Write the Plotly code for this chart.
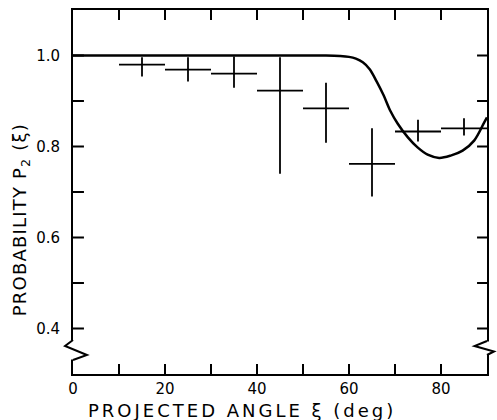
import plotly.graph_objects as go

# ---- data ----
angle_centers = [15, 25, 35, 45, 55, 65, 75, 85]
angle_halfbin = [5, 5, 5, 5, 5, 5, 5, 5]
prob = [0.980, 0.969, 0.960, 0.923, 0.884, 0.762, 0.833, 0.840]
err_plus = [0.016, 0.027, 0.038, 0.073, 0.056, 0.078, 0.026, 0.022]
err_minus = [0.026, 0.026, 0.031, 0.183, 0.076, 0.072, 0.022, 0.016]

curve_x = [0, 20, 40, 55, 58, 60, 61.5, 63, 64.5, 66, 67.5, 69, 70.6, 72.8, 74.9, 77.1,
           79.6, 82.1, 84.7, 87.2, 89.4, 90]
curve_y = [1.0, 1.0, 1.0, 1.0, 0.999, 0.997, 0.993, 0.985, 0.970, 0.943, 0.913, 0.878,
           0.850, 0.820, 0.798, 0.782, 0.775, 0.780, 0.791, 0.813, 0.853, 0.864]

x_range = [0, 90]
y_range = [0.3, 1.1]
x_major = [0, 20, 40, 60, 80]
x_labels = ["0", "20", "40", "60", "80"]
x_minor = [10, 30, 50, 70]
y_major = [0.4, 0.6, 0.8, 1.0]
y_labels = ["0.4", "0.6", "0.8", "1.0"]
y_tick_all = [0.4, 0.5, 0.6, 0.7, 0.8, 0.9, 1.0]

# ---- layout geometry ----
W, H = 497, 420
ML, MR, MT, MB = 73, 8, 10, 46
PW, PH = W - ML - MR, H - MT - MB

def px(dx):
    return dx / PW

def py(dy):
    return dy / PH

def yfrac(v):
    return (v - y_range[0]) / (y_range[1] - y_range[0])

FONT = "DejaVu Sans"

fig = go.Figure()

fig.add_trace(go.Scatter(
    x=curve_x, y=curve_y, mode="lines",
    line=dict(color="black", width=2.5, shape="spline", smoothing=1.0),
    hoverinfo="skip", showlegend=False,
))

fig.add_trace(go.Scatter(
    x=angle_centers, y=prob, mode="markers",
    marker=dict(size=1, color="black"),
    error_x=dict(type="data", array=angle_halfbin, color="black", thickness=1.8, width=0),
    error_y=dict(type="data", symmetric=False, array=err_plus, arrayminus=err_minus,
                 color="black", thickness=1.8, width=0),
    showlegend=False,
))

# axis break symbols: white masks over the axis lines, then zigzags
left_zig = f"M 0 {py(34)} L {px(-8)} {py(28)} L {px(14)} {py(19)} L 0 {py(14)}"
right_zig = (f"M 1 {py(33)} L {1 + px(-12.5)} {py(28)} L {1 + px(7)} {py(22.5)} "
             f"L 1 {py(19)}")
# inward ticks on left and right frame edges, one path
tick_path = " ".join(
    f"M 0 {yfrac(v)} L {px(11)} {yfrac(v)} M {1 - px(10)} {yfrac(v)} L 1 {yfrac(v)}"
    for v in y_tick_all
)
shapes = [
    dict(type="rect", xref="paper", yref="paper", x0=px(-3), x1=px(3),
         y0=py(14.5), y1=py(33.5), fillcolor="white", line=dict(width=0), layer="above"),
    dict(type="rect", xref="paper", yref="paper", x0=1 + px(-3), x1=1 + px(3),
         y0=py(19.5), y1=py(32.5), fillcolor="white", line=dict(width=0), layer="above"),
    dict(type="path", xref="paper", yref="paper", path=left_zig,
         line=dict(color="black", width=2), layer="above"),
    dict(type="path", xref="paper", yref="paper", path=right_zig,
         line=dict(color="black", width=2), layer="above"),
    dict(type="path", xref="paper", yref="paper", path=tick_path,
         line=dict(color="black", width=2), layer="above"),
]

fig.update_layout(
    width=W, height=H,
    margin=dict(l=ML, r=MR, t=MT, b=MB),
    paper_bgcolor="white", plot_bgcolor="white",
    shapes=shapes,
    font=dict(family=FONT, color="black"),
    xaxis=dict(
        range=x_range, tickvals=x_major, ticktext=x_labels,
        ticks="inside", ticklen=10, tickwidth=2, tickcolor="black",
        minor=dict(tickvals=x_minor, ticks="inside", ticklen=10, tickwidth=2,
                   tickcolor="black", showgrid=False),
        showline=True, linewidth=2, linecolor="black", mirror="ticks",
        showgrid=False, zeroline=False,
        tickfont=dict(family=FONT, size=15, color="black"),
    ),
    yaxis=dict(
        range=y_range, tickvals=y_major, ticktext=y_labels,
        ticks="", ticklabelstandoff=8,
        showline=True, linewidth=2, linecolor="black", mirror=True,
        showgrid=False, zeroline=False,
        tickfont=dict(family=FONT, size=15, color="black"),
    ),
    annotations=[
        dict(text='<span style="letter-spacing:3px">PROJECTED ANGLE ξ (deg)</span>',
             xref="paper", yref="paper", x=px(242.5 - ML), y=py(-36),
             xanchor="center", yanchor="middle", showarrow=False,
             font=dict(family=FONT, size=18, color="black")),
        dict(text='<span style="letter-spacing:1.2px">PROBABILITY P<sub>2</sub> (ξ)</span>',
             xref="paper", yref="paper", x=px(21 - ML), y=py(374 - 220),
             xanchor="center", yanchor="middle", textangle=-90, showarrow=False,
             font=dict(family=FONT, size=18, color="black")),
    ],
)

fig.write_html("out.html")
